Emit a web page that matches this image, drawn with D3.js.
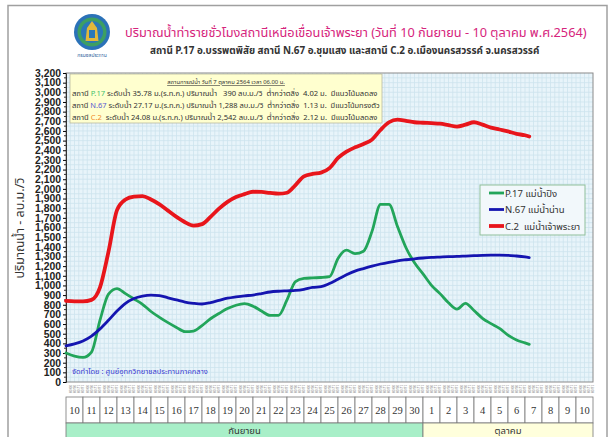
<!DOCTYPE html>
<html><head><meta charset="utf-8">
<script src="https://cdn.jsdelivr.net/npm/d3@7"></script>
<style>
html,body{margin:0;padding:0;background:#fff;}
svg{display:block;}
</style></head>
<body>
<svg id="chart" width="613" height="437"></svg>
<script>
// ---- data (days since 10 Sep 2021 00:00) ----
const dayOffsets = [0,0.5,1,1.5,2,2.5,3,3.5,4,4.5,5,5.5,6,6.5,7,7.5,8,8.5,9,9.5,10,10.5,11,11.5,12,12.5,13,13.5,14,14.5,15,15.5,16,16.5,17,17.5,18,18.5,19,19.5,20,20.5,21,21.5,22,22.5,23,23.5,24,24.5,25,25.5,26,26.5,27,27.25];
const p17 = [300,268,255,310,640,910,968,915,860,805,730,670,615,565,522,528,585,655,710,760,795,812,785,735,690,690,850,1040,1072,1078,1082,1090,1280,1365,1330,1355,1560,1840,1840,1610,1390,1235,1120,1000,915,820,755,815,740,660,605,555,485,435,405,390];
const n67 = [375,395,425,475,550,640,735,815,865,890,900,895,872,850,828,815,808,822,845,868,882,893,900,915,932,940,944,948,960,980,987,1020,1065,1110,1148,1175,1200,1222,1240,1255,1266,1276,1284,1290,1294,1298,1300,1304,1308,1312,1313,1313,1312,1305,1295,1288];
const c2  = [840,835,835,850,980,1350,1780,1890,1920,1925,1890,1840,1775,1710,1655,1620,1635,1710,1795,1865,1915,1945,1970,1968,1958,1950,1960,2040,2130,2155,2168,2215,2320,2385,2430,2465,2510,2610,2690,2718,2705,2690,2685,2680,2675,2660,2645,2665,2690,2665,2635,2615,2595,2570,2555,2542];
const seriesNames = ["P.17 แม่น้ำปิง","N.67 แม่น้ำน่าน","C.2  แม่น้ำเจ้าพระยา"];
const dayLabels = [10,11,12,13,14,15,16,17,18,19,20,21,22,23,24,25,26,27,28,29,30,1,2,3,4,5,6,7,8,9,10];
const monthLabels = ["กันยายน","ตุลาคม"];
const monthDays = [21,10];
const yTicks = d3.range(0,3201,100);
const infoHeader = "สถานการณ์น้ำ วันที่ 7 ตุลาคม 2564 เวลา 06.00 น.";
const infoRows = [
  ["สถานี ","P.17"," ระดับน้ำ 35.78 ม.(ร.ท.ก.) ปริมาณน้ำ   390 ลบ.ม./วิ  ต่ำกว่าตลิ่ง  4.02 ม.  มีแนวโน้มลดลง"],
  ["สถานี ","N.67"," ระดับน้ำ 27.17 ม.(ร.ท.ก.) ปริมาณน้ำ 1,288 ลบ.ม./วิ  ต่ำกว่าตลิ่ง  1.13 ม.  มีแนวโน้มทรงตัว"],
  ["สถานี ","C.2","  ระดับน้ำ 24.08 ม.(ร.ท.ก.) ปริมาณน้ำ 2,542 ลบ.ม./วิ  ต่ำกว่าตลิ่ง  2.12 ม.  มีแนวโน้มลดลง"]
];
const titleText = "ปริมาณน้ำท่ารายชั่วโมงสถานีเหนือเขื่อนเจ้าพระยา (วันที่ 10 กันยายน - 10 ตุลาคม พ.ศ.2564)";
const subtitleText = "สถานี P.17 อ.บรรพตพิสัย สถานี N.67 อ.ชุมแสง และสถานี C.2 อ.เมืองนครสวรรค์ จ.นครสวรรค์";
const yTitle = "ปริมาณน้ำ - ลบ.ม./วิ";
const creditText = "จัดทำโดย : ศูนย์อุทกวิทยาชลประทานภาคกลาง";

// ---- styles ----
const colors = ["#22a55a","#1515b0","#e8151b"];
const widths = [2.8,2.8,3.8];
const thaiFont = "Tahoma, 'Noto Sans Thai', 'Noto Sans Thai UI', Loma, Garuda, 'Noto Sans', sans-serif";

const svg = d3.select("#chart");
const L = 66, R = 593, T = 73, B = 382;
const x = d3.scaleLinear().domain([0,31]).range([L,R]);
const y = d3.scaleLinear().domain([0,3200]).range([B,T]);

function fit(sel, w){
  const n = sel.node(); const cur = n.getComputedTextLength();
  if(cur>0){ const fs = parseFloat(sel.attr("font-size")); sel.attr("font-size", fs*w/cur); }
  return sel;
}

// outer frame
svg.append("rect").attr("x",8).attr("y",5.5).attr("width",599).attr("height",440)
  .attr("fill","none").attr("stroke","#a0a0a0").attr("stroke-width",1.5);

// logo
const lg = svg.append("g").attr("transform","translate(92,32)");
lg.append("circle").attr("r",18).attr("fill","#2b72b8");
lg.append("circle").attr("r",14.5).attr("fill","#3d9f62");
lg.append("circle").attr("r",11).attr("fill","#2a78b8");
lg.append("path").attr("d","M0,-11 L5,-4 L6.5,9 L-6.5,9 L-5,-4 Z").attr("fill","#e2b83a");
lg.append("rect").attr("x",-3).attr("y",-2).attr("width",6).attr("height",8).attr("fill","#2a78b8");
svg.append("text").attr("x",92).attr("y",57).attr("text-anchor","middle")
  .attr("font-family",thaiFont).attr("font-size",5).attr("fill","#2b5d9a").text("กรมชลประทาน");

// titles
fit(svg.append("text").attr("x",125).attr("y",37).attr("font-family",thaiFont).attr("font-size",14)
  .attr("fill","#d6247c").text(titleText), 462);
fit(svg.append("text").attr("x",150).attr("y",54).attr("font-family",thaiFont).attr("font-size",11)
  .attr("font-weight","bold").attr("fill","#333").text(subtitleText), 390);

// plot background + grid
svg.append("rect").attr("x",L).attr("y",T).attr("width",R-L).attr("height",B-T).attr("fill","#e8f4fa");
const grid = svg.append("g").attr("stroke","#cde3ee").attr("stroke-width",0.8);
grid.selectAll("line.h").data(d3.range(50,3200,50)).join("line")
  .attr("x1",L).attr("x2",R).attr("y1",d=>y(d)).attr("y2",d=>y(d));
grid.selectAll("line.v").data(d3.range(0.25,31,0.25)).join("line")
  .attr("y1",T).attr("y2",B).attr("x1",d=>x(d)).attr("x2",d=>x(d));
svg.append("rect").attr("x",L).attr("y",T).attr("width",R-L).attr("height",B-T)
  .attr("fill","none").attr("stroke","#8a8a8a").attr("stroke-width",1);

// y axis
const yAxis = svg.append("g").attr("transform",`translate(${L},0)`)
  .call(d3.axisLeft(y).tickValues(yTicks).tickFormat(d3.format(",")).tickSize(3).tickPadding(2));
yAxis.select(".domain").attr("stroke","#333");
yAxis.selectAll("text").attr("font-family","'Liberation Sans', Arial, sans-serif").attr("font-size",10.4)
  .attr("font-weight","bold").attr("fill","#222");
svg.append("g").selectAll("line").data(d3.range(50,3200,100)).join("line")
  .attr("x1",L-2).attr("x2",L).attr("y1",d=>y(d)).attr("y2",d=>y(d)).attr("stroke","#333");

// y title
svg.append("text").attr("transform","translate(24,228) rotate(-90)").attr("text-anchor","middle")
  .attr("font-family",thaiFont).attr("font-size",12.5).attr("fill","#333").text(yTitle);

// tiny hour labels below axis
svg.append("g").selectAll("text").data(d3.range(0,31,0.25)).join("text")
  .attr("transform",d=>`translate(${x(d)+2.5},385) rotate(90)`)
  .attr("font-family","'Liberation Sans', sans-serif").attr("font-size",3.2).attr("fill","#888")
  .text(d=>{const h=Math.round((d%1)*24);return (h<10?"0":"")+h+".00";});

// info box
const ib = svg.append("g");
ib.append("rect").attr("x",70).attr("y",74).attr("width",312).attr("height",49)
  .attr("fill","#ffffcf").attr("stroke","#b8b8a0").attr("stroke-width",0.8);
const hdr = ib.append("text").attr("x",226).attr("y",84).attr("text-anchor","middle")
  .attr("font-family",thaiFont).attr("font-size",8.5).attr("fill","#333")
  .attr("text-decoration","underline").text(infoHeader);
fit(hdr, 118);
const stColors = ["#3fc26e","#5a5ad0","#f08a2a"];
infoRows.forEach((r,i)=>{
  const t = ib.append("text").attr("x",72).attr("y",96+i*12).attr("font-family",thaiFont)
    .attr("font-size",8.5).attr("fill","#333").attr("xml:space","preserve").style("white-space","pre");
  t.append("tspan").text(r[0]);
  t.append("tspan").attr("fill",stColors[i]).text(r[1]);
  t.append("tspan").text(r[2]);
  fit(t, i===1?308:306);
});

// credit
svg.append("text").attr("x",72).attr("y",374).attr("font-family",thaiFont).attr("font-size",7.5)
  .attr("fill","#3a3ad0").text(creditText);

// lines
const seriesVals = [p17,n67,c2];
const line = d3.line().x((d,i)=>x(dayOffsets[i])).y(d=>y(d)).curve(d3.curveMonotoneX);
[2,0,1].forEach(k=>{
  svg.append("path").datum(seriesVals[k]).attr("d",line).attr("fill","none")
    .attr("stroke",colors[k]).attr("stroke-width",widths[k]).attr("stroke-linejoin","round").attr("stroke-linecap","round");
});

// legend
const lgd = svg.append("g");
lgd.append("rect").attr("x",480).attr("y",185).attr("width",105).attr("height",50)
  .attr("fill","#f2f8fb").attr("stroke","#8fbf9a").attr("stroke-width",1);
seriesNames.forEach((n,i)=>{
  const yy = 193+i*16.5;
  lgd.append("line").attr("x1",489).attr("x2",504).attr("y1",yy).attr("y2",yy)
    .attr("stroke",colors[i]).attr("stroke-width",widths[i]);
  lgd.append("text").attr("x",505).attr("y",yy+3.5).attr("font-family",thaiFont).attr("font-size",9.5)
    .attr("fill","#333").attr("xml:space","preserve").style("white-space","pre").text(n);
});

// day table
const cw = x(1)-x(0);
const tbl = svg.append("g");
tbl.selectAll("rect.d").data(dayLabels).join("rect")
  .attr("x",(d,i)=>x(i)).attr("y",397).attr("width",cw).attr("height",26)
  .attr("fill","#fff").attr("stroke","#777").attr("stroke-width",0.8);
tbl.selectAll("text.d").data(dayLabels).join("text")
  .attr("x",(d,i)=>x(i)+cw/2).attr("y",414).attr("text-anchor","middle")
  .attr("font-family","'Liberation Serif', serif").attr("font-size",10.5).attr("fill","#333").text(d=>d);
let acc = 0;
const mFill = ["#a8efc8","#ffffdc"];
monthLabels.forEach((m,i)=>{
  const x0 = x(acc), x1 = x(acc+monthDays[i]);
  tbl.append("rect").attr("x",x0).attr("y",423).attr("width",x1-x0).attr("height",20)
    .attr("fill",mFill[i]).attr("stroke","#777").attr("stroke-width",0.8);
  tbl.append("text").attr("x",(x0+x1)/2).attr("y",433.5).attr("text-anchor","middle")
    .attr("font-family",thaiFont).attr("font-size",9.5).attr("fill","#333").text(m);
  acc += monthDays[i];
});
</script>
</body></html>
